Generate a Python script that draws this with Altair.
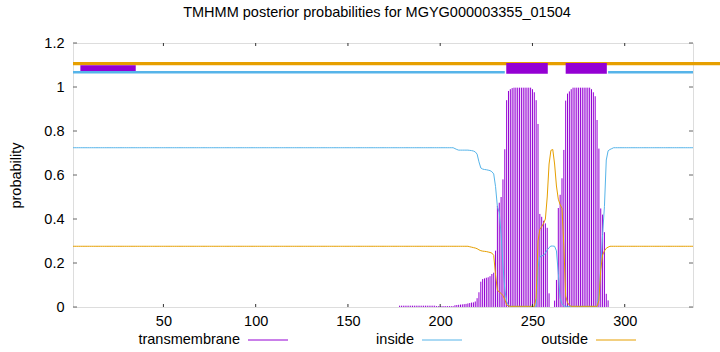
import altair as alt
import pandas as pd

SEQ_LEN = 337

# transmembrane posterior (residue: value), 0 elsewhere
tm_low = [(r, 0.006) for r in range(178, 198)] + [(r, 0.004) for r in range(198, 208)]
tm_vals = {
    208: 0.008, 209: 0.009, 210: 0.010, 211: 0.011, 212: 0.012, 213: 0.013, 214: 0.014,
    215: 0.016, 216: 0.018, 217: 0.020, 218: 0.021, 219: 0.025, 220: 0.040, 221: 0.067,
    222: 0.115, 223: 0.127, 224: 0.130, 225: 0.133, 226: 0.135, 227: 0.140, 228: 0.150,
    229: 0.156, 230: 0.256, 231: 0.459, 232: 0.474, 233: 0.500, 234: 0.580, 235: 0.717,
    236: 0.940, 237: 0.982, 238: 0.990, 239: 0.995, 240: 0.997, 241: 0.997, 242: 0.997,
    243: 0.997, 244: 0.997, 245: 0.997, 246: 0.997, 247: 0.997, 248: 0.997, 249: 0.997,
    250: 0.990, 251: 0.976, 252: 0.940, 253: 0.832, 254: 0.423, 255: 0.410, 256: 0.392,
    257: 0.380, 258: 0.360, 259: 0.062, 260: 0.0, 261: 0.0, 262: 0.029, 263: 0.123,
    264: 0.450, 265: 0.510, 266: 0.585, 267: 0.714, 268: 0.938, 269: 0.970, 270: 0.980,
    271: 0.990, 272: 0.997, 273: 0.997, 274: 0.997, 275: 0.997, 276: 0.997, 277: 0.997,
    278: 0.997, 279: 0.997, 280: 0.997, 281: 0.997, 282: 0.990, 283: 0.976, 284: 0.958,
    285: 0.850, 286: 0.720, 287: 0.448, 288: 0.420, 289: 0.340, 290: 0.060, 291: 0.030,
}

inside_vals = {
    208: 0.720, 209: 0.716, 210: 0.713, 211: 0.713, 212: 0.713, 213: 0.713, 214: 0.713,
    215: 0.713, 216: 0.712, 217: 0.711, 218: 0.709, 219: 0.705, 220: 0.695, 221: 0.660,
    222: 0.632, 223: 0.627, 224: 0.625, 225: 0.624, 226: 0.622, 227: 0.620, 228: 0.615,
    229: 0.605, 230: 0.547, 231: 0.456, 232: 0.430, 233: 0.330, 234: 0.190, 235: 0.080,
    236: 0.025, 237: 0.008, 252: 0.004, 253: 0.180, 254: 0.229, 255: 0.232, 256: 0.235,
    257: 0.245, 258: 0.259, 259: 0.270, 260: 0.277, 261: 0.277, 262: 0.276, 263: 0.255,
    264: 0.153, 265: 0.040, 266: 0.015, 267: 0.005, 286: 0.060, 287: 0.180, 288: 0.330,
    289: 0.456, 290: 0.668, 291: 0.710, 292: 0.716, 293: 0.720,
}
inside_flat = {"before": 0.724, "trough": 0.003, "after": 0.724}

outside_vals = {
    216: 0.274, 217: 0.272, 218: 0.270, 219: 0.268, 220: 0.265, 221: 0.260, 222: 0.256,
    223: 0.254, 224: 0.253, 225: 0.252, 226: 0.250, 227: 0.248, 228: 0.245, 229: 0.235,
    230: 0.145, 231: 0.077, 232: 0.068, 233: 0.062, 234: 0.052, 235: 0.035, 236: 0.010,
    237: 0.005, 252: 0.040, 253: 0.300, 254: 0.353, 255: 0.365, 256: 0.380, 257: 0.400,
    258: 0.500, 259: 0.650, 260: 0.712, 261: 0.716, 262: 0.650, 263: 0.550, 264: 0.490,
    265: 0.465, 266: 0.449, 267: 0.280, 268: 0.050, 269: 0.020, 270: 0.008, 286: 0.030,
    287: 0.170, 288: 0.236, 289: 0.255, 290: 0.267, 291: 0.272,
}
outside_flat = {"before": 0.276, "trough": 0.003, "after": 0.276}


def series(vals, flat, first, last):
    out = []
    for r in range(1, SEQ_LEN + 1):
        if r in vals:
            out.append(vals[r])
        elif r < first:
            out.append(flat["before"])
        elif r > last:
            out.append(flat["after"])
        else:
            out.append(flat["trough"])
    return out


residues = list(range(1, SEQ_LEN + 1))
tm_all = dict(tm_low)
tm_all.update(tm_vals)
tm = [tm_all.get(r, 0.0) for r in residues]
inside = series(inside_vals, inside_flat, 208, 293)
outside = series(outside_vals, outside_flat, 216, 291)

df = pd.DataFrame({"residue": residues, "tm": tm, "inside": inside, "outside": outside})

# topology track
inside_segments = pd.DataFrame({"start": [1, 291], "end": [235, 337]})
tm_boxes = pd.DataFrame({"start": [235.8, 268.0], "end": [258.3, 290.3]})
first_box = pd.DataFrame({"start": [5.0], "end": [35.0]})
INSIDE_Y = 1.067
OUTSIDE_Y = 1.106
BOX_LO, BOX_HI = 1.060, 1.109
FIRST_LO, FIRST_HI = 1.073, 1.099

x_ticks = [50, 100, 150, 200, 250, 300]
y_ticks = [0, 0.2, 0.4, 0.6, 0.8, 1.0, 1.2]

W, H = 620, 264
PURPLE, BLUE, ORANGE = "#9400D3", "#56B4E9", "#E69F00"
FONT = "Liberation Sans"
FS = 14.5

xs = alt.Scale(domain=[1, SEQ_LEN], nice=False, zero=False)
ys = alt.Scale(domain=[0, 1.2], nice=False)

base = alt.Chart(df)

bars = base.mark_rule(color=PURPLE, strokeWidth=1).encode(
    x=alt.X("residue:Q", scale=xs,
            axis=alt.Axis(values=x_ticks, ticks=False, domain=False, grid=False,
                          labelPadding=7, labelFontSize=FS, labelFont=FONT,
                          labelColor="#000", title=None)),
    y=alt.Y("tm:Q", scale=ys,
            axis=alt.Axis(values=y_ticks, format="~g", ticks=False, domain=False, grid=False,
                          labelPadding=9, labelFontSize=FS, labelFont=FONT,
                          labelColor="#000", title="probability", titleFont=FONT,
                          titleFontSize=FS, titleFontWeight="normal", titleColor="#000",
                          titlePadding=20)),
    y2=alt.datum(0),
)

inside_line = base.mark_line(color=BLUE, strokeWidth=1).encode(
    x=alt.X("residue:Q", scale=xs), y=alt.Y("inside:Q", scale=ys))
outside_line = base.mark_line(color=ORANGE, strokeWidth=1).encode(
    x=alt.X("residue:Q", scale=xs), y=alt.Y("outside:Q", scale=ys))

orange_top = alt.Chart(pd.DataFrame({"start": [1]})).mark_rule(
    color=ORANGE, strokeWidth=3.3).encode(
    x=alt.X("start:Q", scale=xs), x2=alt.value(720 - 73), y=alt.datum(OUTSIDE_Y))

blue_top = alt.Chart(inside_segments).mark_rule(color=BLUE, strokeWidth=2.7).encode(
    x=alt.X("start:Q", scale=xs), x2="end:Q", y=alt.datum(INSIDE_Y))

boxes = alt.Chart(tm_boxes).mark_rect(color=PURPLE).encode(
    x=alt.X("start:Q", scale=xs), x2="end:Q", y=alt.datum(BOX_LO), y2=alt.datum(BOX_HI))

box1 = alt.Chart(first_box).mark_rect(color=PURPLE).encode(
    x=alt.X("start:Q", scale=xs), x2="end:Q", y=alt.datum(FIRST_LO), y2=alt.datum(FIRST_HI))

xt = pd.DataFrame({"v": x_ticks})
yt = pd.DataFrame({"v": y_ticks})
xtick_b = alt.Chart(xt).mark_rule(color="#333").encode(
    x=alt.X("v:Q", scale=xs), y=alt.value(H), y2=alt.value(H - 3))
xtick_t = alt.Chart(xt).mark_rule(color="#333").encode(
    x=alt.X("v:Q", scale=xs), y=alt.value(0), y2=alt.value(3))
ytick_l = alt.Chart(yt).mark_rule(color="#666").encode(
    y=alt.Y("v:Q", scale=ys), x=alt.value(0), x2=alt.value(4))
ytick_r = alt.Chart(yt).mark_rule(color="#666").encode(
    y=alt.Y("v:Q", scale=ys), x=alt.value(W), x2=alt.value(W - 4))

legend_names = ["transmembrane", "inside", "outside"]
legend_colors = [PURPLE, BLUE, ORANGE]
legend_layers = []
for i, (name, col) in enumerate(zip(legend_names, legend_colors)):
    tx = 167 + 174 * i
    legend_layers.append(
        alt.Chart(pd.DataFrame({"name": [name]})).mark_text(
            align="right", baseline="middle", fontSize=FS, font=FONT, color="#000").encode(
            text="name:N", x=alt.value(tx), y=alt.value(H + 33)))
    legend_layers.append(
        alt.Chart(pd.DataFrame({"name": [name]})).mark_rule(color=col, strokeWidth=1).encode(
            x=alt.value(tx + 8), x2=alt.value(tx + 48), y=alt.value(H + 33)))

chart = alt.layer(
    bars, inside_line, outside_line, orange_top, boxes, box1, blue_top,
    xtick_b, xtick_t, ytick_l, ytick_r, *legend_layers
).properties(
    width=W, height=H,
    title=alt.TitleParams("TMHMM posterior probabilities for MGYG000003355_01504",
                          font=FONT, fontSize=FS, fontWeight="normal", color="#000",
                          anchor="middle", offset=15, dx=-6),
    autosize=alt.AutoSizeParams(type="none"),
    padding={"left": 73, "top": 43, "right": 27, "bottom": 45},
).configure_view(stroke="#000", strokeWidth=1).configure(background="white")

chart.save("out.html", embed_options={"renderer": "svg", "actions": False})
